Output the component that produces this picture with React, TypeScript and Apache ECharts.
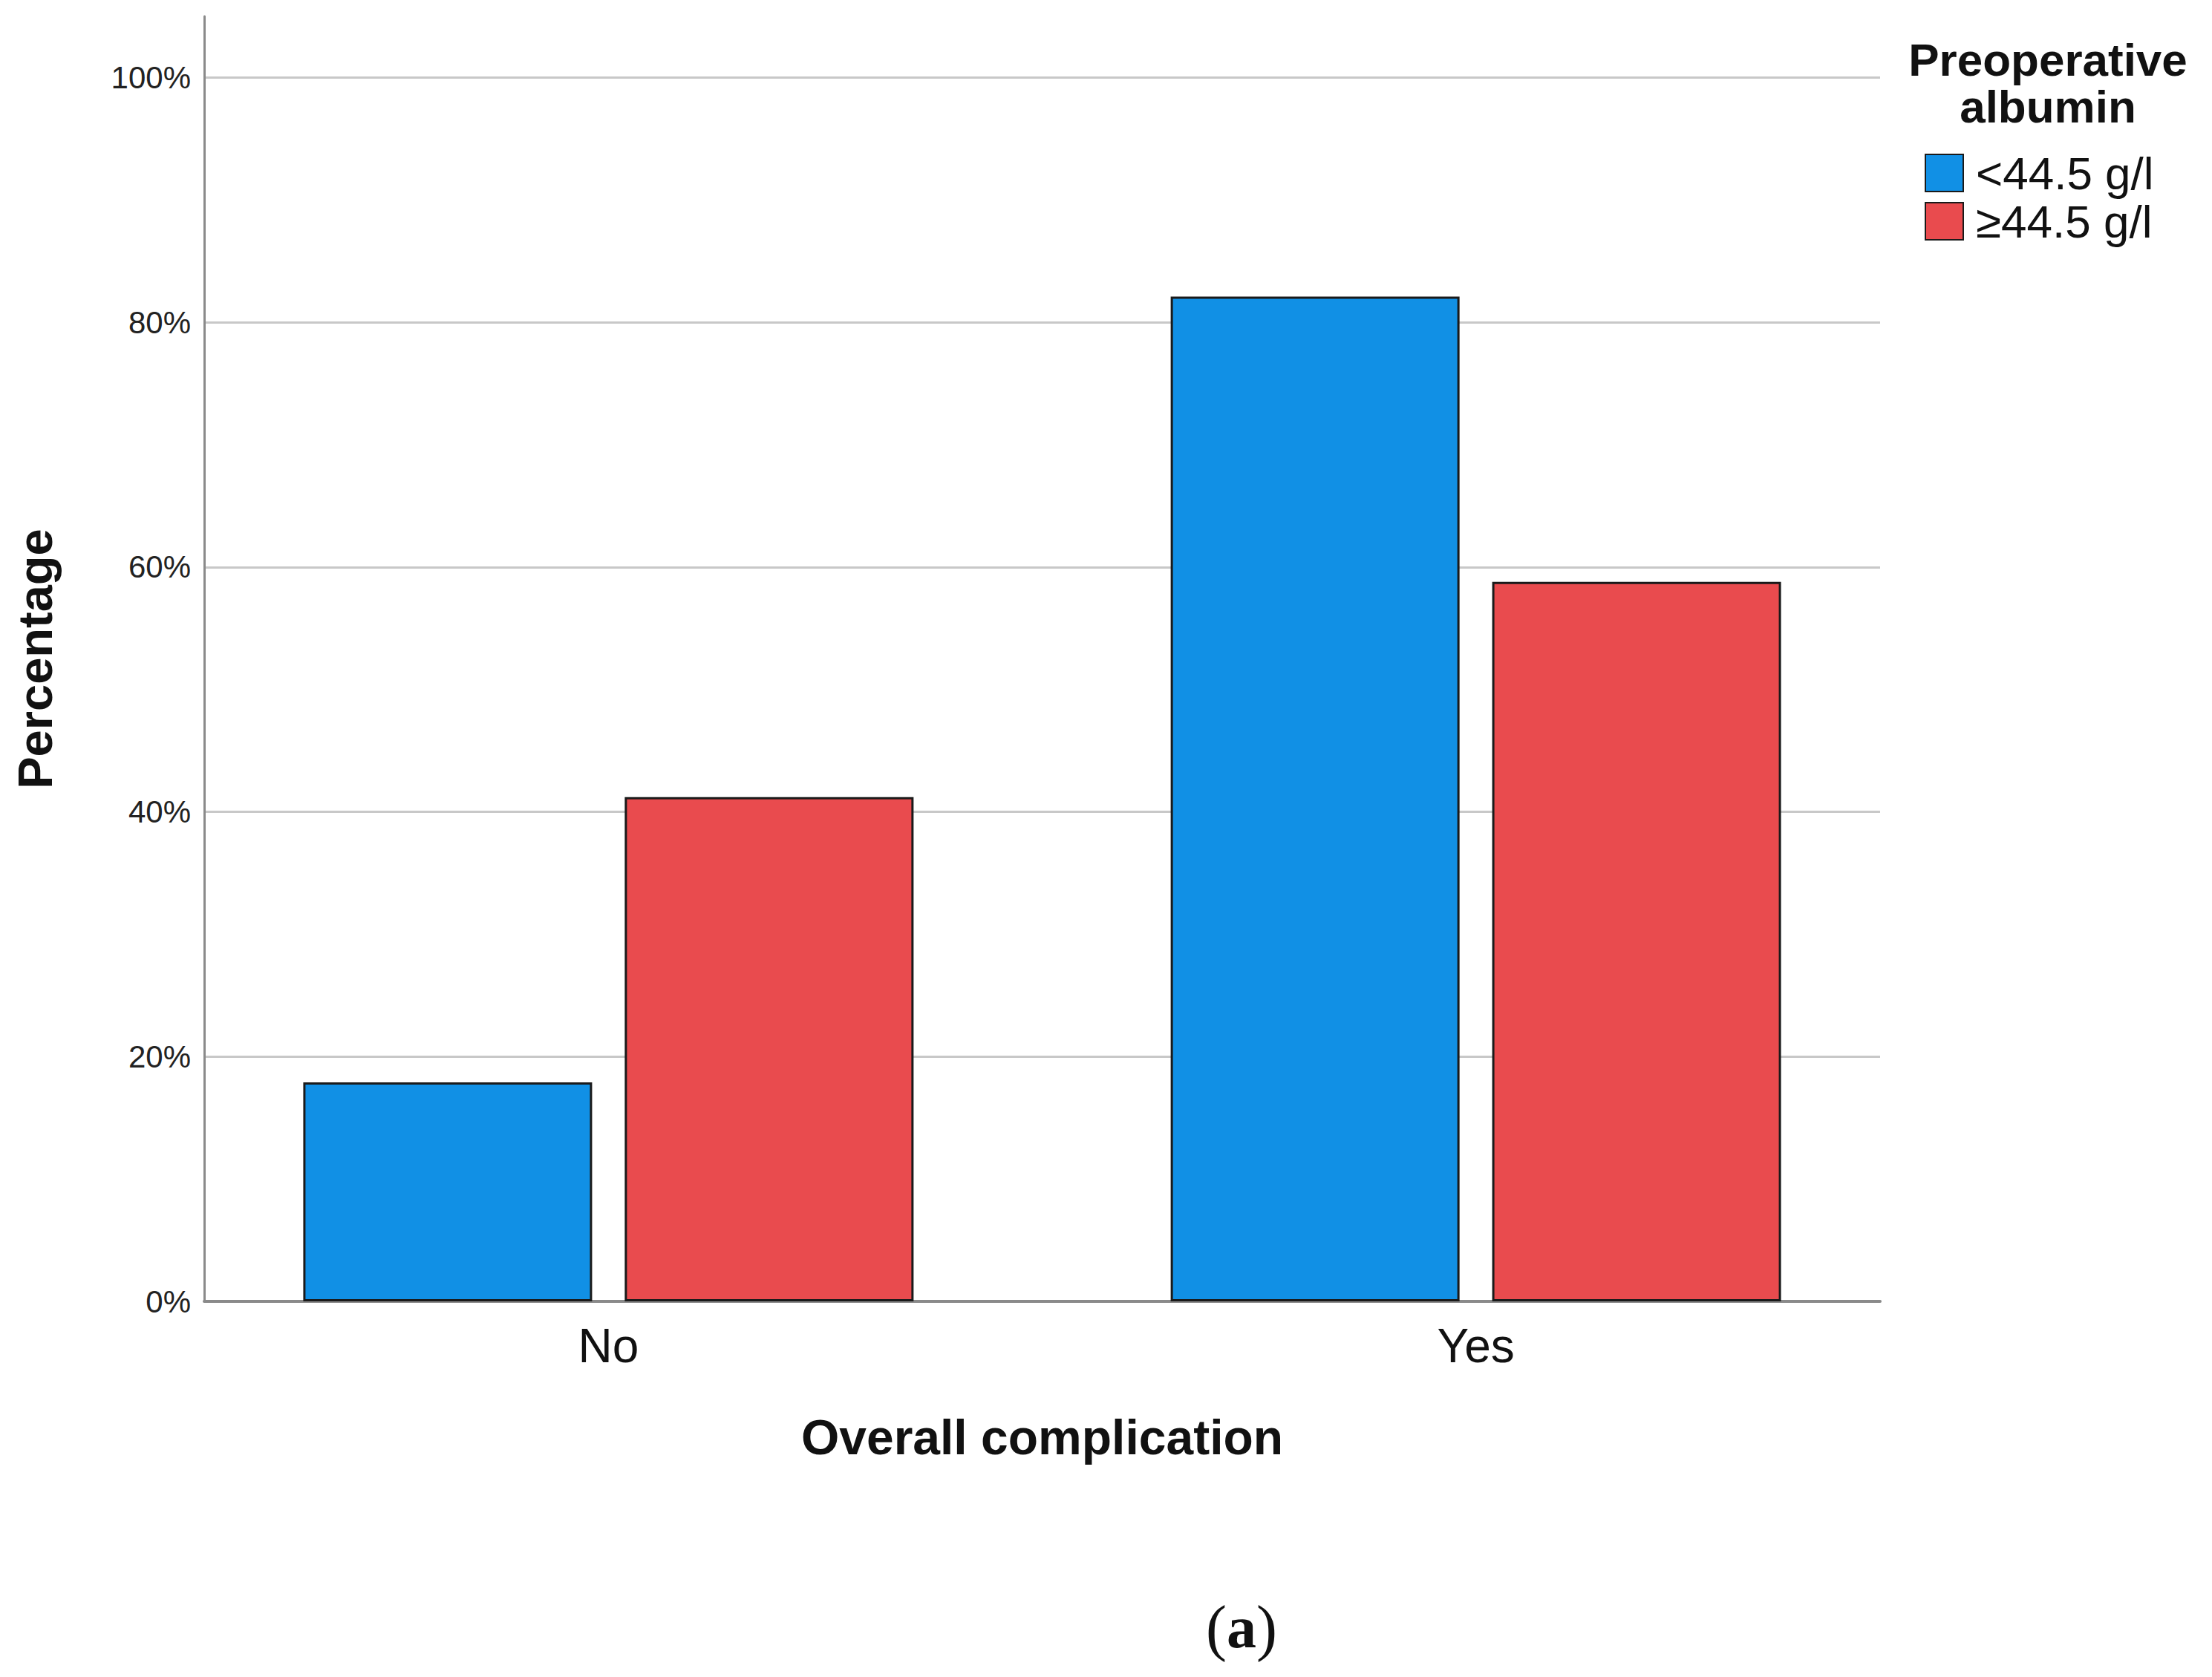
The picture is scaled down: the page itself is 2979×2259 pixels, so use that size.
import React, { useEffect, useRef } from "react";
import * as echarts from "echarts";

const categories = ["No", "Yes"];
const seriesNames = ["<44.5 g/l", "≥44.5 g/l"];
const lowAlbumin = [17.9, 82.1];
const highAlbumin = [41.2, 58.8];
const yTicks = [0, 20, 40, 60, 80, 100];

const FONT = "'Liberation Sans', Arial, sans-serif";
const SERIF = "'Liberation Serif', 'DejaVu Serif', serif";

export default function App() {
  const ref = useRef<HTMLDivElement>(null);
  useEffect(() => {
    if (!ref.current) return;
    const chart = echarts.init(ref.current, null, { renderer: "svg" });
    const toPoints = (vals: number[]) => vals.map((v, i) => [i, v]);
    const option = {
      animation: false,
      backgroundColor: "#ffffff",
      grid: { left: 275, right: 447, top: 22, bottom: 506, containLabel: false },
      legend: {
        orient: "vertical",
        left: 2592,
        top: 202,
        itemWidth: 51,
        itemHeight: 50,
        itemGap: 3,
        padding: 0,
        icon: "rect",
        data: seriesNames,
        textStyle: { fontFamily: FONT, fontSize: 62, lineHeight: 62, color: "#111", padding: [0, 0, 0, 12] },
      },
      xAxis: {
        type: "value",
        min: -0.466,
        max: 1.466,
        splitNumber: 2,
        splitLine: { show: false },
        axisTick: { show: false },
        axisLine: { show: true, lineStyle: { color: "#8a8a8a", width: 4 } },
        axisLabel: {
          customValues: [0, 1],
          formatter: (v: number) => {
            const r = Math.round(v);
            return Math.abs(v - r) < 1e-6 && categories[r] !== undefined ? categories[r] : "";
          },
          fontFamily: FONT,
          fontSize: 64,
          color: "#111",
          margin: 28,
        },
        name: "Overall complication",
        nameLocation: "middle",
        nameGap: 150,
        nameTextStyle: { fontFamily: FONT, fontSize: 66, fontWeight: "bold", color: "#111" },
      },
      yAxis: {
        type: "value",
        min: 0,
        max: 105,
        interval: 20,
        axisLine: { show: true, onZero: false, lineStyle: { color: "#8a8a8a", width: 3 } },
        axisTick: { show: false },
        splitLine: { show: true, showMinLine: false, showMaxLine: false, lineStyle: { color: "#c8c8c8", width: 3 } },
        axisLabel: {
          formatter: (v: number) => (yTicks.includes(v) ? v + "%" : ""),
          fontFamily: FONT,
          fontSize: 42,
          color: "#222",
          margin: 18,
        },
        name: "Percentage",
        nameLocation: "middle",
        nameGap: 195,
        nameTextStyle: { fontFamily: FONT, fontSize: 65, fontWeight: "bold", color: "#111" },
      },
      series: [
        {
          name: seriesNames[0],
          type: "bar",
          data: toPoints(lowAlbumin),
          barWidth: 389,
          barGap: "11.3%",
          itemStyle: { color: "#1190e5", borderColor: "#1a1a1a", borderWidth: 3 },
        },
        {
          name: seriesNames[1],
          type: "bar",
          data: toPoints(highAlbumin),
          barWidth: 389,
          barGap: "11.3%",
          itemStyle: { color: "#e94b4e", borderColor: "#1a1a1a", borderWidth: 3 },
        },
      ],
      graphic: [
        {
          type: "text",
          x: 2758,
          y: 80,
          style: {
            text: "Preoperative",
            textAlign: "center",
            textVerticalAlign: "middle",
            fontFamily: FONT,
            fontSize: 62,
            fontWeight: "bold",
            fill: "#111",
          },
        },
        {
          type: "text",
          x: 2758,
          y: 143,
          style: {
            text: "albumin",
            textAlign: "center",
            textVerticalAlign: "middle",
            fontFamily: FONT,
            fontSize: 62,
            fontWeight: "bold",
            fill: "#111",
          },
        },
        {
          type: "text",
          x: 1672,
          y: 2192,
          style: {
            text: "{p|(}{b|a}{p|)}",
            textAlign: "center",
            textVerticalAlign: "middle",
            fontFamily: SERIF,
            fontSize: 84,
            fontWeight: "normal",
            fill: "#111",
            rich: {
              p: { fontFamily: SERIF, fontSize: 84, fontWeight: "normal", fill: "#111" },
              b: { fontFamily: SERIF, fontSize: 80, fontWeight: "bold", fill: "#111" },
            },
          },
        },
      ],
    };
    chart.setOption(option as any);
    return () => chart.dispose();
  }, []);
  return (
    <div
      ref={ref}
      style={{ position: "absolute", left: 0, top: 0, width: 2979, height: 2259 }}
    />
  );
}
